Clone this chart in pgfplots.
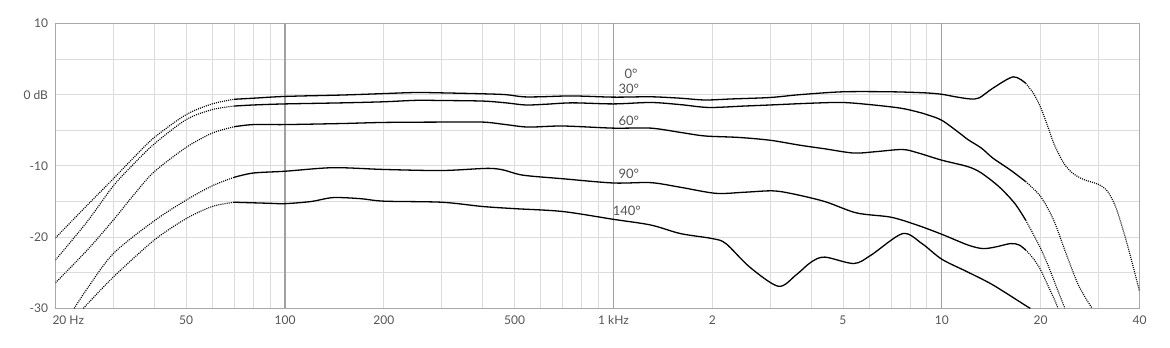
\documentclass[border=0pt]{standalone}
\usepackage{fontspec}
\setmainfont{Lato}
\usepackage{pgfplots}
\pgfplotsset{compat=1.18}
\definecolor{gridc}{HTML}{DCDCDC}
\definecolor{majc}{HTML}{A0A0A0}
\definecolor{axc}{HTML}{A8A8A8}
\definecolor{txt}{HTML}{555555}
\tikzset{lab/.style={anchor=base, font=\fontsize{13}{15}\selectfont, text=txt}}
\begin{document}
\begin{tikzpicture}
\path[use as bounding box] (-55.5pt,-39.6pt) rectangle (1114.5pt,308.4pt);
\begin{axis}[
  at={(0,0)}, anchor=south west,
  scale only axis, width=1084pt, height=285pt,
  xmode=log, xmin=20, xmax=40000, ymin=-30, ymax=10,
  xtick={20,50,200,500,2000,5000,20000,40000},
  xticklabels={{\makebox[0pt][l]{\hspace*{-3pt}20 Hz}},50,200,500,2,5,20,40},
  extra x ticks={100,1000,10000},
  extra x tick labels={100,1 kHz,10},
  extra x tick style={grid=major, major grid style={majc, line width=1.3pt}},
  minor xtick={30,40,60,70,80,90,300,400,600,700,800,900,3000,4000,6000,7000,8000,9000,30000},
  ytick={-30,-20,-10,0,10},
  yticklabels={-30,-20,-10,0 dB,10},
  minor ytick={-25,-15,-5,5},
  grid=both,
  major grid style={gridc, line width=0.8pt},
  minor grid style={gridc, line width=0.8pt},
  major tick length=0pt, minor tick length=0pt,
  tick style={draw=none},
  axis line style={axc, line width=1pt},
  tick label style={font=\fontsize{12}{14}\selectfont, text=txt},
  xticklabel style={yshift=-4pt},
  yticklabel style={xshift=-4pt},
  log basis x=10,
  dotc/.style={black, line width=1.15pt, dash pattern=on 1pt off 1.1pt, smooth},
  solc/.style={black, line width=1.3pt, smooth},
]
% ---------- 0 deg ----------
\addplot[solc] coordinates {
(70,-0.65)(80,-0.5)(100,-0.25)(150,-0.05)(200,0.15)(250,0.3)(300,0.25)(400,0.12)(470,0.0)(530,-0.3)(600,-0.3)(750,-0.18)(1000,-0.35)(1300,-0.3)(1600,-0.5)(1900,-0.75)(2300,-0.6)(3000,-0.4)(3700,0.0)(5000,0.4)(7000,0.4)(8900,0.25)(10000,0.05)(11000,-0.3)(12200,-0.6)(13000,-0.45)(14300,0.9)(16500,2.5)(18000,1.6)};
\addplot[dotc] coordinates {
(20,-20.1)(25,-15.5)(30,-11.8)(35,-8.6)(40,-6.0)(50,-2.8)(60,-1.3)(70,-0.65)};
\addplot[dotc] coordinates {
(18000,1.6)(19000,0.2)(20000,-1.8)(21000,-4.4)(22000,-7)(23500,-9.6)(25000,-11)(27000,-11.9)(30000,-12.6)(32000,-13.6)(34000,-16)(36700,-21)(40000,-27.6)};
% ---------- 30 deg ----------
\addplot[solc] coordinates {
(70,-1.6)(80,-1.45)(100,-1.3)(150,-1.15)(200,-1.0)(250,-0.8)(300,-0.82)(400,-0.9)(470,-1.15)(540,-1.45)(620,-1.35)(750,-1.15)(1000,-1.3)(1300,-1.1)(1600,-1.4)(1950,-1.8)(2500,-1.6)(3000,-1.45)(4000,-1.2)(5000,-1.1)(6200,-1.45)(7500,-1.9)(8400,-2.4)(9000,-2.8)(10000,-3.6)(11400,-5.5)(12000,-6.3)(13200,-7.5)(14300,-8.9)(16200,-10.6)(18000,-12.2)};
\addplot[dotc] coordinates {
(20,-23.2)(25,-17.8)(30,-12.8)(35,-9.5)(40,-6.9)(50,-3.5)(60,-2.1)(70,-1.6)};
\addplot[dotc] coordinates {
(18000,-12.2)(20000,-14.3)(21900,-17.6)(23900,-22.3)(26100,-26.8)(28700,-30)};
% ---------- 60 deg ----------
\addplot[solc] coordinates {
(70,-4.5)(80,-4.2)(100,-4.2)(150,-4.05)(200,-3.9)(300,-3.85)(400,-3.85)(470,-4.2)(550,-4.55)(700,-4.4)(1000,-4.7)(1300,-4.7)(1600,-5.3)(1900,-5.8)(2400,-6.0)(3000,-6.4)(3700,-7.1)(4400,-7.6)(5400,-8.2)(6300,-8.0)(7600,-7.7)(8500,-8.2)(10000,-9.2)(12000,-10.1)(13200,-11.0)(15000,-13.0)(16700,-15.3)(18000,-17.6)};
\addplot[dotc] coordinates {
(20,-26.4)(25,-21.8)(30,-17.6)(35,-13.8)(40,-10.8)(50,-7.4)(60,-5.4)(70,-4.5)};
\addplot[dotc] coordinates {
(18000,-17.6)(19000,-19.6)(20000,-21.6)(21000,-23.8)(22000,-26.2)(23700,-30)};
% ---------- 90 deg ----------
\addplot[solc] coordinates {
(70,-11.6)(80,-11.0)(100,-10.75)(140,-10.25)(200,-10.5)(300,-10.65)(410,-10.35)(460,-10.55)(530,-11.3)(700,-11.8)(1000,-12.4)(1300,-12.35)(1600,-13.0)(2050,-13.85)(2500,-13.7)(3050,-13.5)(3500,-13.9)(4400,-15.0)(5500,-16.6)(7000,-17.2)(8400,-18.3)(10000,-19.6)(12000,-21.1)(13300,-21.6)(14500,-21.4)(16200,-20.9)(17200,-21.1)(18000,-21.8)};
\addplot[dotc] coordinates {
(22.8,-30)(25,-27.2)(30,-22.3)(40,-17.7)(50,-14.8)(60,-12.8)(70,-11.6)};
\addplot[dotc] coordinates {
(18000,-21.8)(19000,-23)(20000,-24.6)(21000,-26.7)(22000,-28.7)(22600,-30)};
% ---------- 140 deg ----------
\addplot[solc] coordinates {
(70,-15.1)(90,-15.25)(100,-15.3)(120,-15.0)(140,-14.45)(170,-14.6)(200,-14.95)(300,-15.1)(400,-15.7)(500,-16.0)(700,-16.4)(1000,-17.5)(1300,-18.3)(1600,-19.5)(2000,-20.2)(2200,-20.9)(2600,-24.2)(3180,-26.9)(3600,-25.3)(4000,-23.5)(4400,-22.8)(5400,-23.7)(6100,-22.5)(7600,-19.5)(8700,-20.9)(10000,-23.1)(12000,-24.9)(14300,-26.7)(18000,-29.6)(18600,-30)};
\addplot[dotc] coordinates {
(24.3,-30)(30,-25.6)(40,-20.4)(50,-17.4)(60,-15.7)(70,-15.1)};
% ---------- labels ----------
\node[lab] at (axis cs:1132,2.33) {0°};
\node[lab] at (axis cs:1114,0.22) {30°};
\node[lab] at (axis cs:1114,-4.27) {60°};
\node[lab] at (axis cs:1114,-11.7) {90°};
\node[lab] at (axis cs:1098,-16.9) {140°};
\end{axis}
\end{tikzpicture}
\end{document}
